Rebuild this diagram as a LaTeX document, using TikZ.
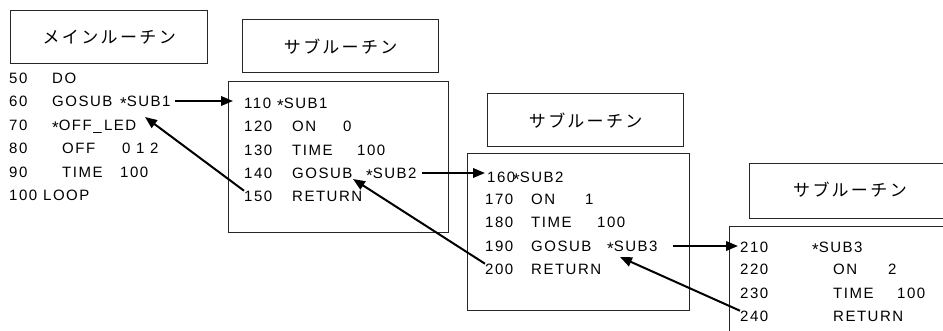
\documentclass[tikz,border=0pt]{standalone}
\usepackage{fontspec}
\setmainfont{Liberation Sans}
\newfontfamily\codefont{Liberation Sans}[LetterSpace=10]
\newfontfamily\jpfont{Noto Sans CJK JP}[LetterSpace=14]
\usetikzlibrary{arrows.meta}
\newcommand\myast{\raisebox{-2.6pt}{\fontsize{17}{18}\selectfont *}}
\tikzset{
  box/.style={draw=black!85, line width=1.3pt, inner sep=0pt},
  code/.style={font=\codefont\fontsize{15}{18}\selectfont, anchor=base west, inner sep=0pt},
  title/.style={font=\jpfont\fontsize{17}{20}\selectfont, inner sep=0pt},
  arr/.style={-{Triangle[length=12pt,width=9.5pt]}, line width=2pt, black},
}
\begin{document}
\begin{tikzpicture}[x=1pt,y=-1pt]
\useasboundingbox (0,0) rectangle (943,330);
\clip (0,0) rectangle (943,330);
\fill[white] (0,0) rectangle (943,330);
% boxes
\node[box, anchor=north west, minimum width=197pt, minimum height=53pt] (mt) at (10,10) {};
\node[title] at (mt.center) {メインルーチン};
\node[box, anchor=north west, minimum width=196pt, minimum height=53pt] (s1t) at (242,19) {};
\node[title] at (s1t.center) {サブ\hspace{2pt}ルーチン};
\node[box, anchor=north west, minimum width=220pt, minimum height=151pt] (s1b) at (228,81) {};
\node[box, anchor=north west, minimum width=196pt, minimum height=53pt] (s2t) at (487,93) {};
\node[title] at (s2t.center) {サブ\hspace{2pt}ルーチン};
\node[box, anchor=north west, minimum width=222pt, minimum height=157pt] (s2b) at (467,153) {};
\node[box, anchor=north west, minimum width=230pt, minimum height=55pt] (s3t) at (749,163) {};
\node[title] at (850,190) {サブ\hspace{2pt}ルーチン};
\node[box, anchor=north west, minimum width=240pt, minimum height=130pt] (s3b) at (729,226) {};
% main routine
\node[code] (m50) at (9,83.4) {50};
\node[code] (m50a) at (52,83.4) {DO};
\node[code] (m60) at (9,106.4) {60};
\node[code] (m60a) at (52,106.4) {GOSUB};
\node[code] (m60b) at (120,106.4) {\myast SUB1};
\node[code] (m70) at (9,130.4) {70};
\node[code] (m70a) at (52,130.4) {\myast OFF\_\,LED};
\node[code] (m80) at (9,153.4) {80};
\node[code] (m80a) at (62,153.4) {OFF};
\node[code] (m80b) at (122,153.4) {0 1 2};
\node[code] (m90) at (9,177.4) {90};
\node[code] (m90a) at (62,177.4) {TIME};
\node[code] (m90b) at (120,177.4) {100};
\node[code] (m100) at (9,200.4) {100};
\node[code] (m100a) at (43,200.4) {LOOP};
% sub 1
\node[code] (s110) at (244,108.4) {110};
\node[code] (s110a) at (277,108.4) {\myast SUB1};
\node[code] (s120) at (244,131.4) {120};
\node[code] (s120a) at (292,131.4) {ON};
\node[code] (s120b) at (343,131.4) {0};
\node[code] (s130) at (244,155.4) {130};
\node[code] (s130a) at (292,155.4) {TIME};
\node[code] (s130b) at (357,155.4) {100};
\node[code] (s140) at (244,178.4) {140};
\node[code] (s140a) at (292,178.4) {GOSUB};
\node[code] (s140b) at (366,178.4) {\myast SUB2};
\node[code] (s150) at (244,201.4) {150};
\node[code] (s150a) at (292,201.4) {RETURN};
% sub 2
\node[code] (s160) at (487,182.4) {160};
\node[code] (s160a) at (513,182.4) {\myast SUB2};
\node[code] (s170) at (485,204.4) {170};
\node[code] (s170a) at (531,204.4) {ON};
\node[code] (s170b) at (585,204.4) {1};
\node[code] (s180) at (485,227.4) {180};
\node[code] (s180a) at (531,227.4) {TIME};
\node[code] (s180b) at (597,227.4) {100};
\node[code] (s190) at (485,251.4) {190};
\node[code] (s190a) at (531,251.4) {GOSUB};
\node[code] (s190b) at (607,251.4) {\myast SUB3};
\node[code] (s200) at (485,274.4) {200};
\node[code] (s200a) at (531,274.4) {RETURN};
% sub 3
\node[code] (s210) at (740,252.4) {210};
\node[code] (s210a) at (812,252.4) {\myast SUB3};
\node[code] (s220) at (740,274.4) {220};
\node[code] (s220a) at (833,274.4) {ON};
\node[code] (s220b) at (888,274.4) {2};
\node[code] (s230) at (740,298.4) {230};
\node[code] (s230a) at (833,298.4) {TIME};
\node[code] (s230b) at (897,298.4) {100};
\node[code] (s240) at (740,321.4) {240};
\node[code] (s240a) at (833,321.4) {RETURN};
% arrow ends
\coordinate (c1s) at (175,101);
\coordinate (c1e) at (233,101);
\coordinate (r1e) at (145,117);
\coordinate (c2s) at (422,173);
\coordinate (c2e) at (485,173);
\coordinate (r2e) at (353,179);
\coordinate (c3s) at (673,246);
\coordinate (c3e) at (738,246);
\coordinate (r3e) at (620,257);
% calls
\draw[arr] (c1s) -- (c1e);
\draw[arr] (c2s) -- (c2e);
\draw[arr] (c3s) -- (c3e);
% returns
\draw[arr] (s150.north west) -- (r1e);
\draw[arr] (s200.north west) -- (r2e);
\draw[arr] (s240.north west) -- (r3e);
\end{tikzpicture}
\end{document}
